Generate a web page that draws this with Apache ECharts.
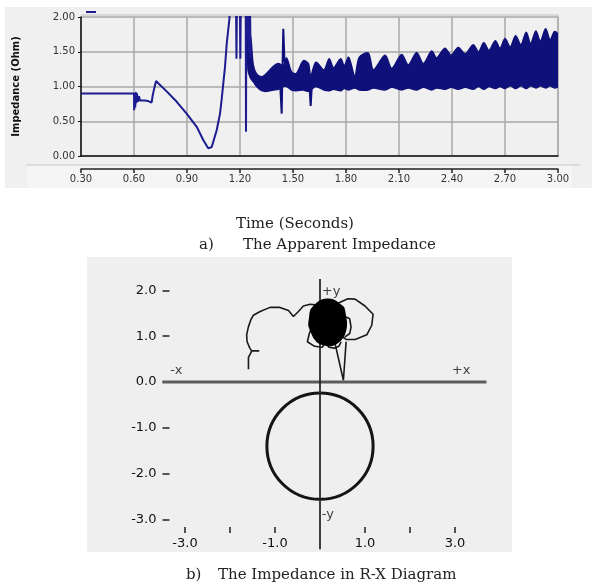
<!DOCTYPE html>
<html>
<head>
<meta charset="utf-8">
<script src="https://cdn.jsdelivr.net/npm/echarts@6/dist/echarts.min.js"></script>
<style>html,body{margin:0;padding:0;background:#fff}#c{width:592px;height:587px}</style>
</head>
<body>
<div id="c"></div>
<script>
// ---------- (a) apparent impedance vs time ----------
const timeTicks = [0.3, 3.0, 0.3];            // min, max, step (seconds)
const impTicks  = [0, 2, 0.5];                // min, max, step (ohm)
// traced curve before the oscillating band (values above 2 are clipped spikes)
const tPre = [0.30,0.600,0.601,0.604,0.607,0.610,0.613,0.617,0.622,0.628,0.634,0.645,0.66,0.68,0.70,0.705,0.715,0.725,0.74,0.785,0.842,0.898,0.955,0.992,1.02,1.04,1.068,1.087,1.096,1.115,1.125,1.14,1.15,1.176,1.18,1.184,1.198,1.202,1.206,1.232,1.234,1.236,1.245,1.25,1.255,1.26];
const vPre = [0.90,0.90,0.66,0.88,0.70,0.92,0.76,0.90,0.78,0.86,0.80,0.81,0.80,0.79,0.77,0.86,0.98,1.08,1.04,0.93,0.78,0.61,0.42,0.23,0.11,0.13,0.37,0.61,0.81,1.28,1.62,1.97,2.60,2.60,1.40,2.60,2.60,1.40,2.60,2.60,0.35,2.60,2.60,1.50,2.60,1.40];
// thin spikes inside the band
const tSpike = [1.428,1.436,1.440,1.445,1.452, null, 1.594,1.600,1.606];
const vSpike = [1.00,0.61,1.20,1.83,1.35, null, 0.98,0.72,0.98];
// envelope of the dense oscillation band
const bandT  = [1.245,1.26,1.275,1.294,1.323,1.351,1.389,1.417,1.445,1.464,1.492,1.52,1.558,1.587,1.600,1.63,1.675,1.705,1.73,1.77,1.79,1.815,1.85,1.875,1.926,1.955,2.021,2.059,2.115,2.153,2.20,2.238,2.285,2.313,2.36,2.395,2.435,2.475,2.52,2.55,2.58,2.61,2.645,2.672,2.70,2.73,2.76,2.79,2.82,2.845,2.875,2.90,2.93,2.955,2.98,3.0];
const bandHi = [1.80,1.72,1.31,1.18,1.14,1.19,1.29,1.33,1.30,1.41,1.21,1.19,1.37,1.33,1.15,1.35,1.24,1.40,1.27,1.40,1.30,1.42,1.15,1.42,1.48,1.24,1.45,1.26,1.46,1.31,1.49,1.33,1.51,1.41,1.55,1.45,1.56,1.47,1.60,1.50,1.63,1.52,1.66,1.55,1.69,1.57,1.73,1.60,1.78,1.62,1.80,1.65,1.83,1.67,1.79,1.74];
const bandLo = [1.25,1.12,1.07,1.00,0.94,0.93,0.95,0.96,1.00,1.00,0.95,0.94,0.95,0.93,0.95,1.00,0.95,0.94,0.96,0.94,0.97,0.95,0.98,0.95,0.95,0.98,0.95,0.99,0.95,0.98,0.95,0.99,0.95,0.98,0.96,0.99,0.96,0.99,0.96,1.00,0.96,1.00,0.97,1.00,0.97,1.01,0.97,1.01,0.97,1.01,0.98,1.01,0.98,1.01,0.98,1.00];

// ---------- (b) R-X diagram ----------
const rxTickValues  = [-3,-2,-1,1,2,3];
const rxLabelValues = [-3,-1,1,3];
const xyTickValues  = [-3,-2,-1,0,1,2];
const rxAxisH = [[-3.5,0],[3.7,0]];
const rxAxisV = [[0,2.25],[0,-3.65]];
const rxLeft  = [[-1.59,0.28],[-1.59,0.54],[-1.54,0.63],[-1.52,0.68],[-1.35,0.68],[-1.52,0.68],[-1.56,0.74],[-1.62,0.88],[-1.63,1.03],[-1.59,1.21],[-1.54,1.35],[-1.48,1.46],[-1.33,1.54],[-1.11,1.63],[-0.89,1.63],[-0.70,1.56],[-0.59,1.43],[-0.48,1.54],[-0.37,1.66],[-0.22,1.70],[-0.05,1.68]];
const rxRight = [[0.40,1.72],[0.62,1.82],[0.78,1.81],[1.00,1.66],[1.18,1.48],[1.15,1.24],[1.04,1.03],[0.78,0.93],[0.58,0.93],[0.48,1.00]];
const rxBump  = [[0.52,1.45],[0.66,1.38],[0.69,1.20],[0.66,1.06],[0.55,0.98]];
const rxLower = [[-0.18,1.22],[-0.24,1.05],[-0.28,0.88],[-0.12,0.78],[0.05,0.76],[0.12,0.86],[0.20,0.76],[0.32,0.74],[0.42,0.78],[0.47,0.88]];
const rxV     = [[0.33,0.86],[0.52,0.04],[0.58,0.88]];
const rxBlob  = [[0.15,1.80],[0.30,1.78],[0.42,1.70],[0.52,1.62],[0.55,1.48],[0.58,1.30],[0.56,1.12],[0.50,0.98],[0.38,0.86],[0.22,0.80],[0.10,0.82],[-0.02,0.86],[-0.12,0.96],[-0.18,1.08],[-0.24,1.24],[-0.22,1.42],[-0.20,1.56],[-0.12,1.66],[0.0,1.76]];
const mhoCircle = [[0, -1.40, 1.18]];   // centre R, centre X, radius
const rxNotes = [['+y',0.04,1.98],['-y',0.04,-2.90],['-x',-3.33,0.24],['+x',2.93,0.24]];

const preData = tPre.map((t,i)=>[t, vPre[i]]);
const spikeData = tSpike.map((t,i)=> t === null ? ['-', '-'] : [t, vSpike[i]]);
const bandData = bandT.map((t,i)=>[t, bandLo[i], bandHi[i]]);

const chart = echarts.init(document.getElementById('c'), null, {renderer:'canvas'});
const lineSeries = (data, color, width) => ({
  type:'line', xAxisIndex:2, yAxisIndex:1, data, symbol:'none', silent:true,
  lineStyle:{color, width}, z:3
});
const sans = 'DejaVu Sans';
const NAVY = '#1c1c90';
const BAND = '#10107a';

chart.setOption({
  animation:false,
  backgroundColor:'#ffffff',
  legend:{left:81, top:6, itemWidth:10, itemHeight:2, icon:'rect', formatter:()=>'', data:[{name:'Impedance', itemStyle:{color:NAVY}}], textStyle:{fontSize:1}},
  graphic:[
    {type:'rect', z:-100, shape:{x:5,y:7,width:587,height:181}, style:{fill:'#f0f0f0'}},
    {type:'rect', z:-99, shape:{x:27,y:166,width:545,height:22}, style:{fill:'#f5f5f5'}},
    {type:'line', z:-98, shape:{x1:27,y1:165,x2:580,y2:165}, style:{stroke:'#d6d6d6', lineWidth:1.5}},
    {type:'line', z:-98, shape:{x1:81,y1:15,x2:558,y2:15}, style:{stroke:'#d0d0d0', lineWidth:1.5}},
    {type:'line', z:-98, shape:{x1:558,y1:15,x2:558,y2:156}, style:{stroke:'#c4c4c4', lineWidth:1.5}},
    {type:'rect', z:-100, shape:{x:87,y:257,width:425,height:295}, style:{fill:'#efefef'}},
    {type:'text', x:295, y:224, style:{text:'Time (Seconds)', font:'15px "DejaVu Serif"', fill:'#222', textAlign:'center', textVerticalAlign:'middle', verticalAlign:'middle'}},
    {type:'text', x:199, y:245, style:{text:'a)', font:'15px "DejaVu Serif"', fill:'#222', textAlign:'left', textVerticalAlign:'middle', verticalAlign:'middle'}},
    {type:'text', x:243, y:245, style:{text:'The Apparent Impedance', font:'15px "DejaVu Serif"', fill:'#222', textAlign:'left', textVerticalAlign:'middle', verticalAlign:'middle'}},
    {type:'text', x:186, y:575, style:{text:'b)', font:'15px "DejaVu Serif"', fill:'#222', textAlign:'left', textVerticalAlign:'middle', verticalAlign:'middle'}},
    {type:'text', x:218, y:575, style:{text:'The Impedance in R-X Diagram', font:'15px "DejaVu Serif"', fill:'#222', textAlign:'left', textVerticalAlign:'middle', verticalAlign:'middle'}}
  ],
  grid:[
    {left:81, top:17, width:477, height:139, containLabel:false},
    {left:162.5, top:276.7, width:324, height:274.8, containLabel:false}
  ],
  xAxis:[
    {gridIndex:0, type:'value', min:timeTicks[0], max:timeTicks[1], interval:timeTicks[2],
     axisLine:{show:true, onZero:false, lineStyle:{color:'#111', width:1.5}}, axisTick:{show:false}, axisLabel:{show:false},
     splitLine:{show:true, lineStyle:{color:'#a8a8a8', width:1.5}}},
    {gridIndex:0, type:'value', position:'bottom', offset:13, min:timeTicks[0], max:timeTicks[1], interval:timeTicks[2],
     axisLine:{show:true, onZero:false, lineStyle:{color:'#222', width:1.5}},
     axisTick:{show:true, length:4, lineStyle:{color:'#222', width:1.5}},
     axisLabel:{fontFamily:sans, fontSize:10, color:'#333', margin:5, formatter:v=>v.toFixed(2)},
     splitLine:{show:false}},
    {gridIndex:1, type:'value', position:'bottom', offset:-18.5, min:-3.5, max:3.7,
     axisLine:{show:false, onZero:false},
     axisTick:{show:true, inside:true, length:6, customValues:rxTickValues, lineStyle:{color:'#222', width:1.5}},
     axisLabel:{show:true, customValues:rxLabelValues, margin:4, fontFamily:sans, fontSize:13, color:'#111', formatter:v=>v.toFixed(1)},
     splitLine:{show:false}}
  ],
  yAxis:[
    {gridIndex:0, type:'value', min:impTicks[0], max:impTicks[1], interval:impTicks[2],
     axisLine:{show:true, onZero:false, lineStyle:{color:'#111', width:1.5}},
     axisTick:{show:true, length:3, lineStyle:{color:'#111'}},
     axisLabel:{fontFamily:sans, fontSize:10, color:'#333', margin:6, formatter:v=>v.toFixed(2)},
     splitLine:{show:true, lineStyle:{color:'#a8a8a8', width:1.5}},
     name:'Impedance (Ohm)', nameLocation:'middle', nameRotate:90, nameGap:60,
     nameTextStyle:{fontFamily:sans, fontSize:10, fontWeight:'bold', color:'#111'}},
    {gridIndex:1, type:'value', position:'left', min:-3.7, max:2.3,
     axisLine:{show:false, onZero:false},
     axisTick:{show:true, inside:true, length:7, customValues:xyTickValues, lineStyle:{color:'#222', width:1.5}},
     axisLabel:{show:true, customValues:xyTickValues, margin:6, fontFamily:sans, fontSize:13, color:'#111', formatter:v=>v.toFixed(1)},
     splitLine:{show:false}}
  ],
  series:[
    {name:'Impedance', type:'custom', xAxisIndex:0, yAxisIndex:0, data:bandData, encode:{x:0, y:[1,2]}, z:3, silent:true, clip:true,
     itemStyle:{color:NAVY},
     renderItem:(params, api)=>{
       if (params.dataIndex !== 0) return null;
       const pts = [];
       for (let i=0;i<bandT.length;i++) pts.push(api.coord([bandT[i], bandHi[i]]));
       for (let i=bandT.length-1;i>=0;i--) pts.push(api.coord([bandT[i], bandLo[i]]));
       return {type:'polygon', shape:{points:pts, smooth:0.3}, style:{fill:BAND, stroke:BAND, lineWidth:1.5}};
     }},
    {name:'Impedance', type:'line', xAxisIndex:0, yAxisIndex:0, data:preData, symbol:'none', clip:true, silent:true,
     lineStyle:{color:NAVY, width:2}, itemStyle:{color:NAVY}, z:4},
    {name:'Impedance', type:'line', xAxisIndex:0, yAxisIndex:0, data:spikeData, symbol:'none', clip:true, silent:true,
     connectNulls:false, lineStyle:{color:BAND, width:2}, itemStyle:{color:NAVY}, z:4},
    lineSeries(rxAxisH, '#5c5c5c', 3),
    lineSeries(rxAxisV, '#2a2a2a', 1.8),
    {type:'custom', xAxisIndex:2, yAxisIndex:1, data:mhoCircle, encode:{x:0, y:1}, silent:true, z:3,
     renderItem:(params, api)=>{
       const c = api.coord([api.value(0), api.value(1)]);
       const r = api.size([api.value(2), 0])[0];
       return {type:'circle', shape:{cx:c[0], cy:c[1], r}, style:{fill:'none', stroke:'#151515', lineWidth:3}};
     }},
    {type:'custom', xAxisIndex:2, yAxisIndex:1, data:rxBlob, encode:{x:0, y:1}, silent:true, z:4,
     renderItem:(params, api)=>{
       if (params.dataIndex !== 0) return null;
       const pts = rxBlob.map(p=>api.coord(p));
       return {type:'polygon', shape:{points:pts, smooth:0.2}, style:{fill:'#000', stroke:'#000', lineWidth:2}};
     }},
    lineSeries(rxLeft, '#1a1a1a', 1.6),
    lineSeries(rxRight, '#1a1a1a', 1.6),
    lineSeries(rxBump, '#1a1a1a', 1.6),
    lineSeries(rxLower, '#1a1a1a', 1.6),
    lineSeries(rxV, '#1a1a1a', 1.6),
    {type:'scatter', xAxisIndex:2, yAxisIndex:1, symbolSize:0, silent:true, z:5,
     data:rxNotes.map(n=>({name:n[0], value:[n[1], n[2]]})),
     label:{show:true, position:'right', distance:0, formatter:p=>p.name, fontFamily:sans, fontSize:13, color:'#111'}}
  ]
});
</script>
</body>
</html>
